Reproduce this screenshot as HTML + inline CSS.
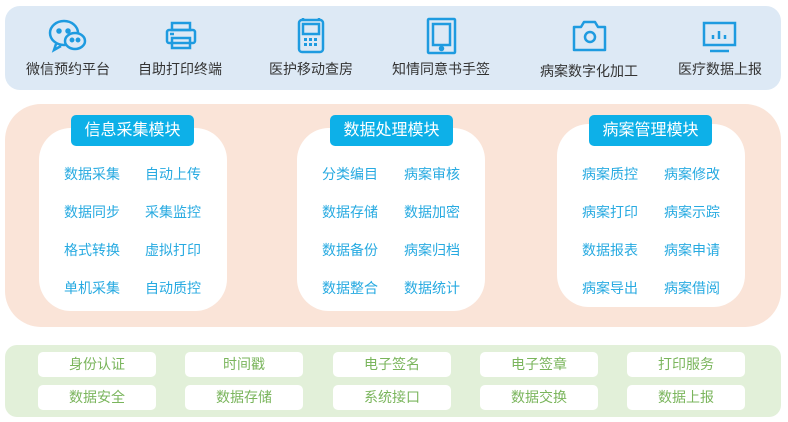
<!DOCTYPE html>
<html><head><meta charset="utf-8"><style>
body{margin:0;width:788px;height:422px;background:#fff;position:relative;overflow:hidden;font-family:"Liberation Sans","Noto Sans CJK SC",sans-serif}
.a{position:absolute}
.top{left:5px;top:6px;width:776px;height:84px;background:#dde9f5;border-radius:15px}
.mid{left:5px;top:104px;width:776px;height:223px;background:#fae4d8;border-radius:36px}
.bot{left:5px;top:345px;width:776px;height:72px;background:#e2f0d9;border-radius:12px}
.lbl{font-size:14px;color:#333;width:140px;text-align:center;top:59px}
.ic{top:18px}
.box{top:128px;width:188px;height:183px;background:#fff;border-radius:32px}
.tt{top:115px;width:123px;height:31px;background:#0db0e8;border-radius:5px;color:#fff;font-size:16px;text-align:center;line-height:31px}
.it{font-size:14px;color:#27aae1;width:80px;text-align:center}
.cell{width:118px;height:25px;background:#fff;border-radius:5px;color:#7ab55c;font-size:14px;text-align:center;line-height:25px}
</style></head><body>
<div class="a top"></div><div class="a mid"></div><div class="a bot"></div>

<svg class="a" style="left:0;top:0" width="788" height="100" fill="none" stroke="#1e9be0" stroke-width="2.5">
<ellipse cx="64" cy="33" rx="14" ry="12"/><path d="M56 44 l-2 6 7-4"/>
<ellipse cx="75" cy="41" rx="10" ry="8" fill="#dde9f5"/>
<circle cx="59" cy="31" r="1.5" fill="#1e9be0"/><circle cx="68" cy="31" r="1.5" fill="#1e9be0"/>
<circle cx="72" cy="40" r="1.2" fill="#1e9be0"/><circle cx="78" cy="40" r="1.2" fill="#1e9be0"/>
<rect x="172" y="23" width="18" height="7"/><rect x="167" y="30" width="28" height="13" rx="2"/><rect x="172" y="38" width="18" height="10"/><path d="M170 34 h4"/>
<rect x="299" y="20" width="24" height="32" rx="3"/><path d="M303 20 v-2 M319 20 v-2"/><rect x="303" y="24" width="16" height="10"/>
<g fill="#1e9be0" stroke="none"><rect x="304" y="38" width="3" height="3"/><rect x="309" y="38" width="3" height="3"/><rect x="314" y="38" width="3" height="3"/><rect x="304" y="43" width="3" height="3"/><rect x="309" y="43" width="3" height="3"/><rect x="314" y="43" width="3" height="3"/></g>
<rect x="428" y="19" width="27" height="34" rx="1"/><rect x="433" y="24" width="17" height="21"/><circle cx="441.5" cy="48.5" r="1.5" fill="#1e9be0"/>
<path d="M574 27 h7 l3-5 h11 l3 5 h7 v23 h-31 z" stroke-linejoin="round"/><circle cx="590" cy="37" r="5"/>
<rect x="704" y="23" width="31" height="22"/><path d="M710 51 h19 M713 35 v4 M719 31 v8 M725 35 v4"/>
</svg>
<div class="a lbl" style="left:-2px">微信预约平台</div>
<div class="a lbl" style="left:110px">自助打印终端</div>
<div class="a lbl" style="left:241px">医护移动查房</div>
<div class="a lbl" style="left:371px">知情同意书手签</div>
<div class="a lbl" style="left:519px;top:61px">病案数字化加工</div>
<div class="a lbl" style="left:650px">医疗数据上报</div>

<div class="a box" style="left:39px"></div>
<div class="a box" style="left:297px"></div>
<div class="a box" style="left:557px;top:124px"></div>
<div class="a tt" style="left:71px">信息采集模块</div>
<div class="a tt" style="left:330px">数据处理模块</div>
<div class="a tt" style="left:589px">病案管理模块</div>

<div class="a it" style="left:52px;top:164px">数据采集</div><div class="a it" style="left:133px;top:164px">自动上传</div>
<div class="a it" style="left:52px;top:202px">数据同步</div><div class="a it" style="left:133px;top:202px">采集监控</div>
<div class="a it" style="left:52px;top:240px">格式转换</div><div class="a it" style="left:133px;top:240px">虚拟打印</div>
<div class="a it" style="left:52px;top:278px">单机采集</div><div class="a it" style="left:133px;top:278px">自动质控</div>

<div class="a it" style="left:310px;top:164px">分类编目</div><div class="a it" style="left:392px;top:164px">病案审核</div>
<div class="a it" style="left:310px;top:202px">数据存储</div><div class="a it" style="left:392px;top:202px">数据加密</div>
<div class="a it" style="left:310px;top:240px">数据备份</div><div class="a it" style="left:392px;top:240px">病案归档</div>
<div class="a it" style="left:310px;top:278px">数据整合</div><div class="a it" style="left:392px;top:278px">数据统计</div>

<div class="a it" style="left:570px;top:164px">病案质控</div><div class="a it" style="left:652px;top:164px">病案修改</div>
<div class="a it" style="left:570px;top:202px">病案打印</div><div class="a it" style="left:652px;top:202px">病案示踪</div>
<div class="a it" style="left:570px;top:240px">数据报表</div><div class="a it" style="left:652px;top:240px">病案申请</div>
<div class="a it" style="left:570px;top:278px">病案导出</div><div class="a it" style="left:652px;top:278px">病案借阅</div>

<div class="a cell" style="left:38px;top:352px">身份认证</div>
<div class="a cell" style="left:185px;top:352px">时间戳</div>
<div class="a cell" style="left:333px;top:352px">电子签名</div>
<div class="a cell" style="left:480px;top:352px">电子签章</div>
<div class="a cell" style="left:627px;top:352px">打印服务</div>
<div class="a cell" style="left:38px;top:385px">数据安全</div>
<div class="a cell" style="left:185px;top:385px">数据存储</div>
<div class="a cell" style="left:333px;top:385px">系统接口</div>
<div class="a cell" style="left:480px;top:385px">数据交换</div>
<div class="a cell" style="left:627px;top:385px">数据上报</div>
</body></html>
